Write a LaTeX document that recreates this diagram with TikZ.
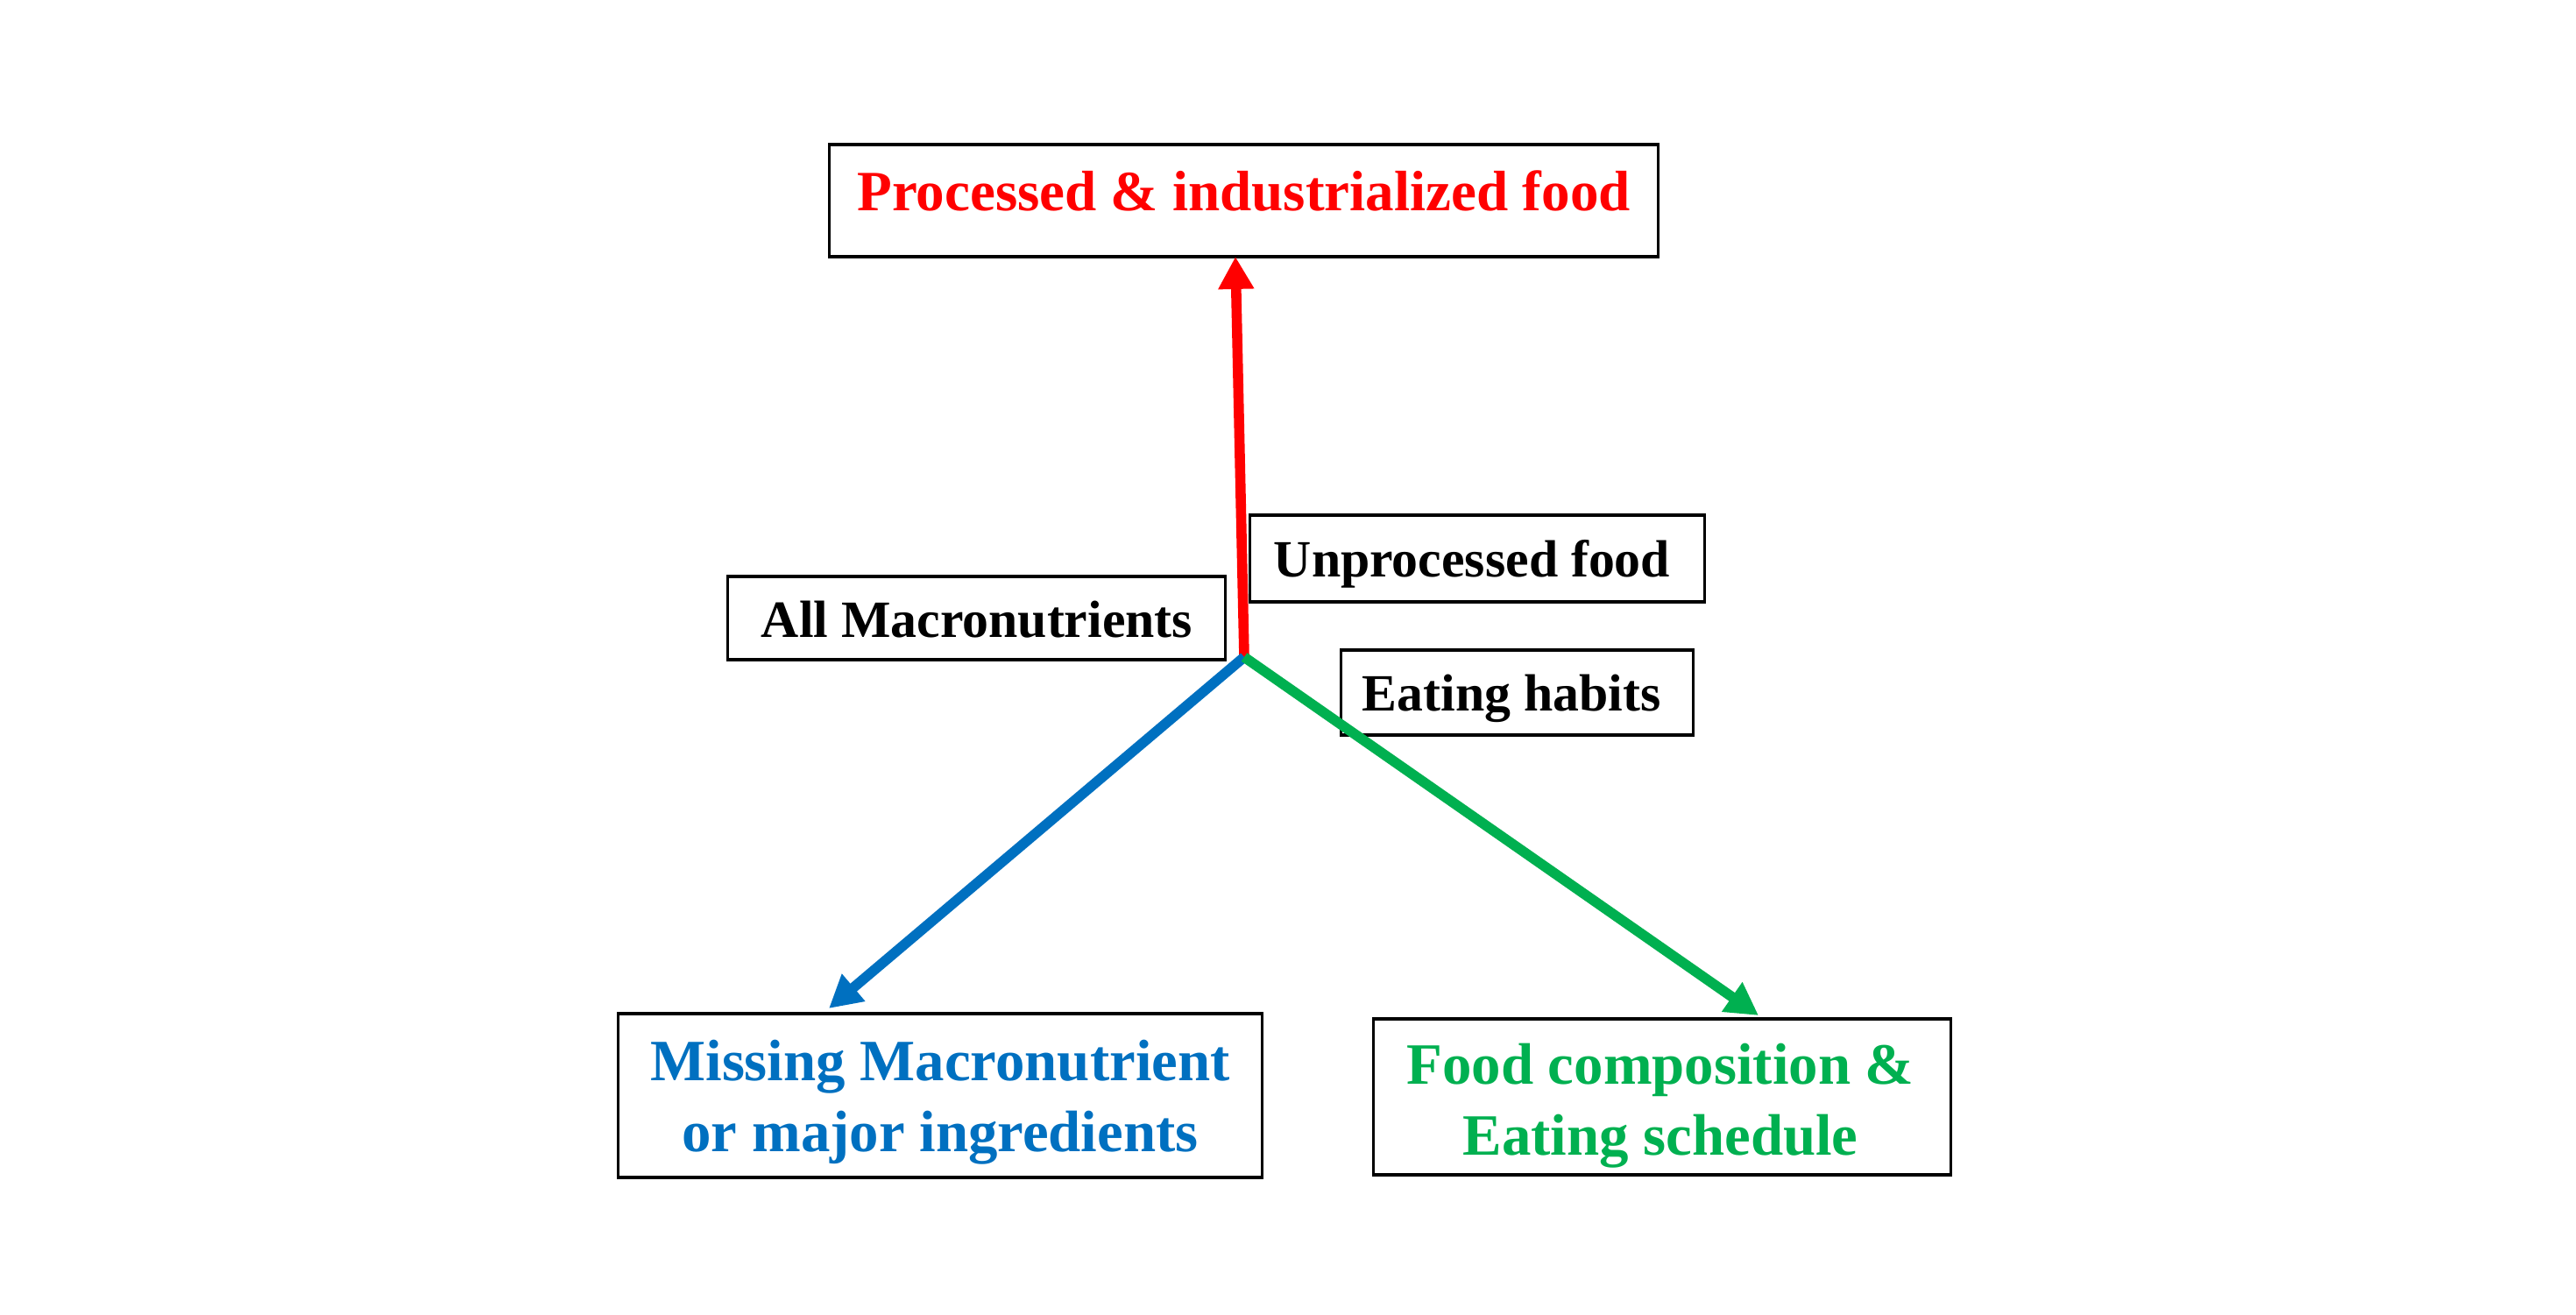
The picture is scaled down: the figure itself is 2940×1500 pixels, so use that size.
\documentclass[tikz,border=0pt]{standalone}
\usepackage{fontspec}
\setmainfont{Liberation Serif}
\usetikzlibrary{arrows.meta}
\definecolor{cred}{RGB}{255,0,0}
\definecolor{cblue}{RGB}{0,112,192}
\definecolor{cgreen}{RGB}{0,176,80}
\begin{document}
\begin{tikzpicture}[x=0.01cm,y=-0.01cm,
  boxst/.style={draw=black,line width=0.9pt,inner sep=0pt},
  bigtxt/.style={inner sep=0pt,font=\bfseries\fontsize{19}{23}\selectfont,align=center},
  smalltxt/.style={inner sep=0pt,font=\bfseries\fontsize{17}{20}\selectfont,anchor=base},
  arr/.style={line width=3.3pt,-{Triangle[width=11pt,length=10.5pt]}}]
\useasboundingbox (0,0) rectangle (2940,1500);
% boxes
\node[boxst,minimum width=9.45cm,minimum height=1.28cm] (top) at (1419.5,229) {};
\node[inner sep=0pt,anchor=base,text=cred,font=\bfseries\fontsize{18.5}{22}\selectfont] (toptxt) at (1419.5,240) {Processed \& industrialized food};
\node[boxst,minimum width=5.18cm,minimum height=0.99cm] (unp) at (1686,637.5) {};
\node[smalltxt] (unptxt) at (1680,658) {Unprocessed food};
\node[boxst,minimum width=5.67cm,minimum height=0.95cm] (allm) at (1114.5,705.5) {};
\node[smalltxt] (allmtxt) at (1115,727) {All Macronutrients};
\node[boxst,minimum width=4.01cm,minimum height=0.97cm] (eat) at (1731.5,790.5) {};
\node[smalltxt] (eattxt) at (1725,811) {Eating habits};
\node[boxst,minimum width=7.34cm,minimum height=1.87cm] (miss) at (1073,1250.5) {};
\node[bigtxt,text=cblue] (misstxt) at (1073,1258) {Missing Macronutrient\\or major ingredients};
\node[boxst,minimum width=6.58cm,minimum height=1.78cm] (food) at (1897,1252) {};
\node[bigtxt,text=cgreen] (foodtxt) at (1895,1262) {Food composition \&\\Eating schedule};
% connectors
\coordinate (c) at (1420,750);
\coordinate (redtip) at (1410,293);
\coordinate (bluetip) at (946,1151);
\coordinate (greentip) at (2007,1159);
\draw[arr,cred] (c) -- (redtip);
\draw[arr,cblue] (c) -- (bluetip);
\draw[arr,cgreen] (c) -- (greentip);
\end{tikzpicture}
\end{document}
